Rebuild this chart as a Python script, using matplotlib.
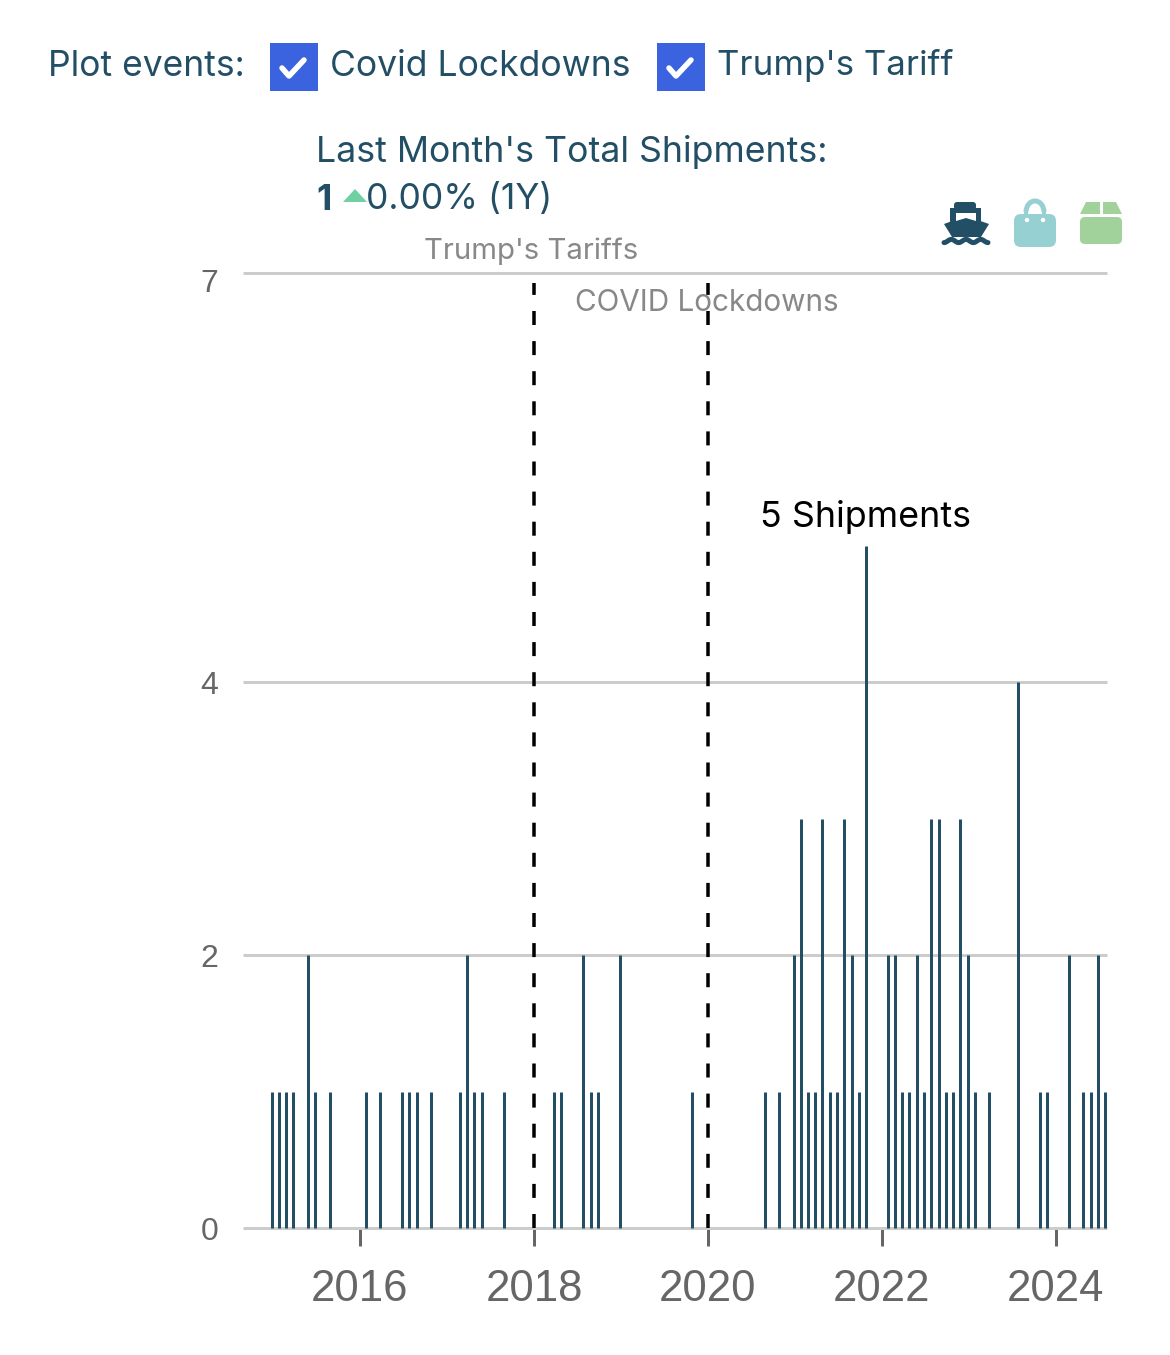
import numpy as np
import pandas as pd
import matplotlib
matplotlib.use('Agg')
import matplotlib.pyplot as plt
import matplotlib.dates as mdates
from matplotlib.patches import Rectangle, Polygon, FancyBboxPatch, Circle, Arc
from matplotlib.transforms import ScaledTranslation

# monthly shipments
months = ['2015-01', '2015-02', '2015-03', '2015-04', '2015-06', '2015-07', '2015-09',
          '2016-02', '2016-04', '2016-07', '2016-08', '2016-09', '2016-11',
          '2017-03', '2017-04', '2017-05', '2017-06', '2017-09',
          '2018-04', '2018-05', '2018-08', '2018-09', '2018-10', '2019-01', '2019-11',
          '2020-09', '2020-11',
          '2021-01', '2021-02', '2021-03', '2021-04', '2021-05', '2021-06', '2021-07',
          '2021-08', '2021-09', '2021-10', '2021-11',
          '2022-02', '2022-03', '2022-04', '2022-05', '2022-06', '2022-07', '2022-08',
          '2022-09', '2022-10', '2022-11', '2022-12', '2023-01', '2023-02', '2023-04',
          '2023-08', '2023-11', '2023-12', '2024-03', '2024-05', '2024-06', '2024-07', '2024-08']
shipments = [1, 1, 1, 1, 2, 1, 1,
             1, 1, 1, 1, 1, 1,
             1, 2, 1, 1, 1,
             1, 1, 2, 1, 1, 2, 1,
             1, 1,
             2, 3, 1, 1, 3, 1, 1,
             3, 2, 1, 5,
             2, 2, 1, 1, 2, 1, 3,
             3, 1, 1, 3, 2, 1, 1,
             4, 1, 1, 2, 1, 1, 2, 1]

event_dates = ['2018-01-01', '2020-01-01']
event_names = ["Trump's Tariffs", 'COVID Lockdowns']
year_ticks = [2016, 2018, 2020, 2022, 2024]
y_ticks = [0, 2, 4, 7]

W, H = 1170, 1355
TEAL = '#234f66'
GREY = '#666666'
UI_FONT = ['Inter', 'DejaVu Sans']

plt.rcParams['font.family'] = ['Liberation Sans', 'DejaVu Sans']
fig = plt.figure(figsize=(W / 100, H / 100), dpi=100, facecolor='white')
px = 0.72  # points per pixel at this dpi

# axes box in pixels: x 243-1107, y 273-1228
ax = fig.add_axes([243 / W, 1 - 1228 / H, (1107 - 243) / W, (1228 - 273) / H])
for s in ax.spines.values():
    s.set_visible(False)
ax.set_facecolor('none')

dates = pd.to_datetime(months) - pd.Timedelta(days=5)
ax.vlines(dates, 0, shipments, color=TEAL, lw=3 * px, zorder=3, clip_on=False)

for d in event_dates:
    ax.axvline(pd.Timestamp(d), ymin=0, ymax=(1228 - 283) / 955, color='black',
               lw=3.5 * px, ls=(0, (4.0, 4.6)), zorder=4)

ax.set_ylim(0, 7)
ax.set_xlim(pd.Timestamp('2014-08-28'), pd.Timestamp('2024-08-03'))
ax.set_yticks(y_ticks)
ax.set_xticks([pd.Timestamp(f'{y}-01-01') for y in year_ticks])
ax.xaxis.set_major_formatter(mdates.DateFormatter('%Y'))
ax.grid(axis='y', color='#cccccc', lw=3 * px, zorder=1)
ax.set_axisbelow(True)
for g in ax.get_ygridlines():
    g.set_clip_on(False)
    g.set_solid_capstyle('butt')
ax.tick_params(axis='x', length=18 * px, width=3 * px, color=GREY, labelcolor=GREY,
               labelsize=31.5, pad=23 * px)
ax.tick_params(axis='y', length=0, labelcolor=GREY, labelsize=23, pad=25 * px)
for lab in ax.get_yticklabels():
    lab.set_transform(lab.get_transform() + ScaledTranslation(0, -0.5 / 100, fig.dpi_scale_trans))
ax.get_yticklabels()[-1].set_transform(ax.get_yticklabels()[-1].get_transform()
                                       + ScaledTranslation(0, -7.5 / 100, fig.dpi_scale_trans))

# everything around the chart is placed in pixel coordinates
ov = fig.add_axes([0, 0, 1, 1])
ov.set_xlim(0, W)
ov.set_ylim(H, 0)
ov.axis('off')
ov.patch.set_visible(False)


def label(x, y, s, size, color=TEAL, ha='left', weight='normal'):
    ov.text(x, y, s, fontsize=size, color=color, ha=ha, va='center', family=UI_FONT,
            fontweight=weight)


label(48, 66, 'Plot events:', 25.5)
label(330, 66, 'Covid Lockdowns', 25.6)
label(717, 66, "Trump's Tariff", 25.1)
for x0 in [270, 657]:
    ov.add_patch(Rectangle((x0, 43), 48, 48, color='#3b63e0', lw=0))
    ov.plot([x0 + 12, x0 + 19, x0 + 34], [68, 76, 60], color='white', lw=5.5 * px,
            solid_capstyle='round', solid_joinstyle='round')

label(316, 152, "Last Month's Total Shipments:", 25.7)
label(316, 200, '1', 25.5, weight='bold')
ov.add_patch(Polygon([(343, 202), (355, 189), (367, 202)], closed=True, color='#6fd0a2', lw=0))
label(366, 200, '0.00% (1Y)', 25.5)

label(531, 251, event_names[0], 21.2, color='#888888', ha='center')
label(707, 303, event_names[1], 21.4, color='#888888', ha='center')
label(866, 517, '5 Shipments', 25.8, color='black', ha='center')

# ship icon
ov.add_patch(FancyBboxPatch((954, 202), 22, 8, boxstyle='round,pad=0,rounding_size=3', color=TEAL, lw=0))
ov.add_patch(Rectangle((950, 208), 31, 14, color=TEAL, lw=0))
ov.add_patch(Polygon([(944, 224), (966, 216), (989, 224), (981, 237), (952, 237)], closed=True, color=TEAL, lw=0))
ov.add_patch(Polygon([(956, 213), (976, 213), (976, 221), (966, 218), (956, 221)], closed=True, color='white', lw=0))
wave_x = np.linspace(944, 988, 60)
ov.plot(wave_x, 241 + 1.6 * np.cos((wave_x - 944) / 44 * 6 * np.pi), color=TEAL, lw=5 * px,
        solid_capstyle='round')

# bag icon
BAG = '#96d0d2'
ov.add_patch(FancyBboxPatch((1014, 214), 42, 33, boxstyle='round,pad=0,rounding_size=7', color=BAG, lw=0))
ov.add_patch(Arc((1035, 212), 18, 22, theta1=180, theta2=360, color=BAG, lw=5 * px))
ov.add_patch(Rectangle((1024, 212), 4, 4, color=BAG, lw=0))
ov.add_patch(Rectangle((1042, 212), 4, 4, color=BAG, lw=0))
ov.add_patch(Circle((1027, 220), 2.2, color='white', lw=0))
ov.add_patch(Circle((1043, 220), 2.2, color='white', lw=0))

# box icon
BOX = '#a2d29b'
ov.add_patch(FancyBboxPatch((1080, 217), 42, 27, boxstyle='round,pad=0,rounding_size=5', color=BOX, lw=0))
ov.add_patch(Polygon([(1080, 214), (1086, 202), (1100, 202), (1100, 214)], closed=True, color=BOX, lw=0))
ov.add_patch(Polygon([(1103, 214), (1103, 202), (1116, 202), (1122, 214)], closed=True, color=BOX, lw=0))

fig.savefig('out.png', dpi=100)
